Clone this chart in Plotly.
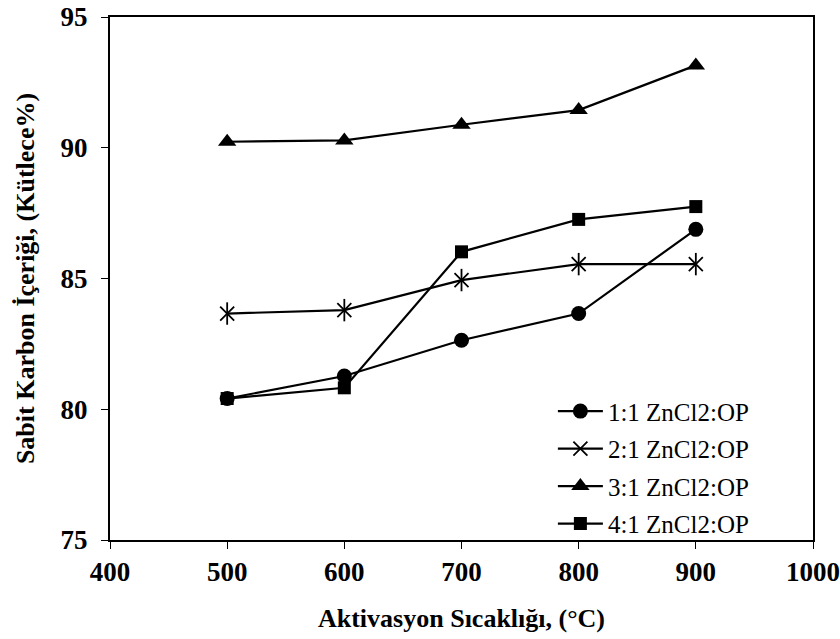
import plotly.graph_objects as go

temps = [500, 600, 700, 800, 900]
s1_label = "1:1 ZnCl2:OP"
s2_label = "2:1 ZnCl2:OP"
s3_label = "3:1 ZnCl2:OP"
s4_label = "4:1 ZnCl2:OP"
s1 = [80.41, 81.27, 82.64, 83.66, 86.88]
s2 = [83.66, 83.79, 84.94, 85.55, 85.55]
s3 = [90.23, 90.28, 90.88, 91.44, 93.15]
s4 = [80.41, 80.82, 86.02, 87.26, 87.75]

x_ticks = [400, 500, 600, 700, 800, 900, 1000]
y_ticks = [75, 80, 85, 90, 95]

fig = go.Figure()
lw = 2.2
fig.add_trace(go.Scatter(x=temps, y=s1, name=s1_label, mode="lines+markers",
                         line=dict(color="black", width=lw),
                         marker=dict(symbol="circle", size=15, color="black"),
                         legendgroup="a"))
fig.add_trace(go.Scatter(x=temps, y=s2, name=s2_label, mode="lines+markers",
                         line=dict(color="black", width=lw),
                         marker=dict(symbol="x-thin-open", size=14, color="black",
                                     line=dict(color="black", width=1.8)),
                         legendgroup="b"))
fig.add_trace(go.Scatter(x=temps, y=s2, mode="markers", showlegend=False,
                         marker=dict(symbol="line-ns-open", size=16, color="black",
                                     line=dict(color="black", width=1.8)),
                         legendgroup="b", hoverinfo="skip"))
fig.add_trace(go.Scatter(x=temps, y=s3, name=s3_label, mode="lines+markers",
                         line=dict(color="black", width=lw),
                         marker=dict(symbol="triangle-up", size=16, color="black"),
                         legendgroup="c"))
fig.add_trace(go.Scatter(x=temps, y=s4, name=s4_label, mode="lines+markers",
                         line=dict(color="black", width=lw),
                         marker=dict(symbol="square", size=13, color="black"),
                         legendgroup="d"))

tick_font = dict(family="Liberation Serif", size=27, color="black", weight="bold")
title_font = dict(family="Liberation Serif", size=26, color="black", weight="bold")
fig.update_layout(
    width=840, height=639,
    paper_bgcolor="white", plot_bgcolor="white",
    margin=dict(l=110, r=27, t=17, b=99, autoexpand=False),
    showlegend=True,
    legend=dict(x=0.63, y=0.29, xanchor="left", yanchor="top",
                font=dict(family="Liberation Serif", size=25, color="black"),
                bgcolor="rgba(0,0,0,0)", tracegroupgap=2, itemwidth=45),
    xaxis=dict(range=[400, 1000], tickvals=x_ticks, ticktext=[str(v) for v in x_ticks],
               showgrid=False, zeroline=False, showline=True, linecolor="black",
               linewidth=2, mirror=True, ticks="outside", ticklen=7, tickwidth=1,
               tickcolor="black", tickfont=tick_font, automargin=False,
               ticklabeloverflow="allow",
               title=dict(text="Aktivasyon Sıcaklığı, (°C)", font=title_font,
                          standoff=22)),
    yaxis=dict(range=[75, 95], tickvals=y_ticks, ticktext=[str(v) for v in y_ticks],
               showgrid=False, zeroline=False, showline=True, linecolor="black",
               linewidth=2, mirror=True, ticks="outside", ticklen=7, tickwidth=1,
               tickcolor="black", tickfont=tick_font, ticklabelstandoff=8,
               automargin=False, ticklabeloverflow="allow",
               title=dict(text="Sabit Karbon İçeriği, (Kütlece%)", font=title_font,
                          standoff=18)),
)
fig.write_html("out.html")
